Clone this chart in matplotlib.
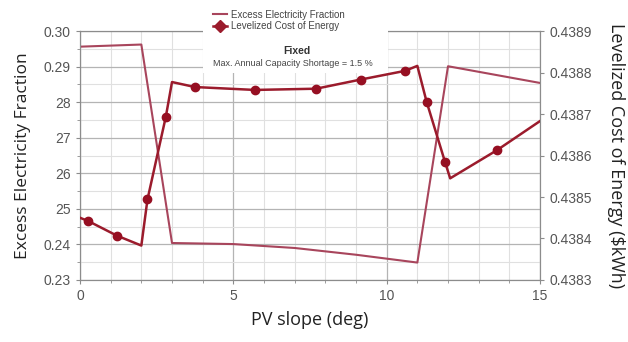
import matplotlib
matplotlib.use("Agg")
import matplotlib.pyplot as plt
from matplotlib.lines import Line2D
from matplotlib.patches import Rectangle

# PV slope (deg) vs excess electricity fraction (left) and LCOE (right)
excess_x = [0, 2, 3, 5, 7, 9, 11, 12, 15]
excess_y = [0.2956, 0.2962, 0.2404, 0.2401, 0.2390, 0.2371, 0.2349, 0.2901, 0.2854]

lcoe_x = [0, 0.27, 1.2, 2.0, 2.2, 2.8, 3.0, 3.75, 5.7, 7.7, 9.15, 10.6, 11.0, 11.3, 11.9, 12.07, 13.6, 15]
lcoe_y = [0.438450, 0.438442, 0.438407, 0.438383, 0.438494, 0.438694, 0.438777, 0.438765,
          0.438758, 0.438761, 0.438783, 0.438804, 0.438816, 0.438730, 0.438585, 0.438545,
          0.438613, 0.438683]
marker_x = [0.27, 1.2, 2.2, 2.8, 3.75, 5.7, 7.7, 9.15, 10.6, 11.3, 11.9, 13.6]
marker_y = [0.438442, 0.438407, 0.438494, 0.438694, 0.438765, 0.438758, 0.438761,
            0.438783, 0.438804, 0.438730, 0.438585, 0.438613]

left_ticks = [0.23, 0.24, 0.25, 0.26, 0.27, 0.28, 0.29, 0.30]
left_labels = ["0.23", "0.24", "25", "26", "27", "28", "0.29", "0.30"]
right_ticks = [0.4383, 0.4384, 0.4385, 0.4386, 0.4387, 0.4388, 0.4389]
x_ticks = [0, 5, 10, 15]

tick_font = "Liberation Sans"
label_font = "Open Sans"
gray = "#8c8c8c"
excess_color = "#a8455c"
lcoe_color = "#9b1b2c"

fig = plt.figure(figsize=(6.28, 3.42), dpi=100)
ax = fig.add_axes([0.1274, 0.1813, 0.7325, 0.728])
ax2 = ax.twinx()

# grid
ax.set_xlim(0, 15)
ax.set_ylim(0.23, 0.30)
ax.set_xticks(x_ticks)
ax.set_xticks(range(0, 16), minor=True)
ax.set_yticks(left_ticks)
ax.set_yticks([t + 0.005 for t in left_ticks[:-1]], minor=True)
ax.grid(which="major", color="#b4b4b4", lw=0.9)
ax.grid(which="minor", color="#e0e0e0", lw=0.8)
ax.set_axisbelow(True)

ax.plot(excess_x, excess_y, color=excess_color, lw=1.5, zorder=3)

ax2.set_ylim(0.4383, 0.4389)
ax2.set_yticks(right_ticks)
ax2.set_yticklabels(["%.4f" % t for t in right_ticks])
ax2.plot(lcoe_x, lcoe_y, color=lcoe_color, lw=1.8, zorder=3)
ax2.plot(marker_x, marker_y, "o", color="#960f22", ms=6, zorder=4)

ax.set_yticklabels(left_labels)
for a in (ax, ax2):
    for s in a.spines.values():
        s.set_color(gray)
    a.tick_params(which="both", colors=gray, labelcolor="#555555", labelsize=10, length=3)
    a.tick_params(which="minor", length=2)
    for lab in a.get_xticklabels() + a.get_yticklabels():
        lab.set_fontfamily(tick_font)
ax2.tick_params(axis="x", which="both", length=0)

ax.set_xlabel("PV slope (deg)", fontfamily=label_font, fontsize=13, color="#222222", labelpad=6)
ax.set_ylabel("Excess Electricity Fraction", fontfamily=label_font, fontsize=12.5, color="#222222", labelpad=9)
ax2.set_ylabel("Levelized Cost of Energy ($kWh)", fontfamily=label_font, fontsize=13,
               color="#222222", rotation=-90, labelpad=24)

# white box behind legend and title
fig.add_artist(Rectangle((203 / 628, 1 - 73 / 342), 185 / 628, 73 / 342,
                         transform=fig.transFigure, facecolor="white", edgecolor="none", zorder=4))

handles = [Line2D([], [], color=excess_color, lw=1.5),
           Line2D([], [], color=lcoe_color, lw=1.8, marker="D", ms=6)]
fig.legend(handles, ["Excess Electricity Fraction", "Levelized Cost of Energy"],
           loc="upper left", bbox_to_anchor=(206 / 628, 1 - 3 / 342), frameon=False,
           prop={"family": tick_font, "size": 7}, handlelength=1.5, handletextpad=0.4,
           labelspacing=0.15, borderpad=0.2, labelcolor="#444444")

fig.text(297 / 628, 1 - 51 / 342, "Fixed", ha="center", va="center", fontsize=7.5,
         fontweight="bold", fontfamily=tick_font, color="#333333", zorder=6)
fig.text(293 / 628, 1 - 63 / 342, "Max. Annual Capacity Shortage = 1.5 %", ha="center",
         va="center", fontsize=6.5, fontfamily=tick_font, color="#444444", zorder=6)

fig.savefig("out.png", dpi=100)
